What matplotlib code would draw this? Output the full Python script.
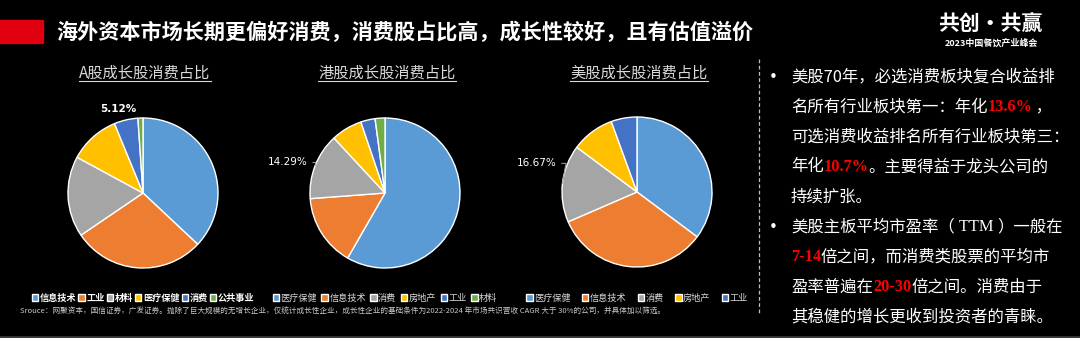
import matplotlib
matplotlib.use("Agg")
import matplotlib.pyplot as plt
import numpy as np

plt.rcParams['font.family'] = ['Noto Sans CJK SC', 'DejaVu Sans']

W, H = 1080, 338

# ---- data ----
a_title = "A股成长股消费占比"
a_labels = ["信息技术", "工业", "材料", "医疗保健", "消费", "公共事业"]
a_values = [37.0, 28.5, 17.4, 10.9, 5.12, 1.08]
a_marked = "消费"

hk_title = "港股成长股消费占比"
hk_labels = ["医疗保健", "信息技术", "消费", "房地产", "工业", "材料"]
hk_values = [58.3, 15.5, 14.29, 6.7, 3.1, 2.11]
hk_marked = "消费"

us_title = "美股成长股消费占比"
us_labels = ["医疗保健", "信息技术", "消费", "房地产", "工业"]
us_values = [35.2, 33.3, 16.67, 9.26, 5.57]
us_marked = "消费"

palette = ["#5B9BD5", "#ED7D31", "#A5A5A5", "#FFC000", "#4472C4", "#70AD47"]

headline = "海外资本市场长期更偏好消费，消费股占比高，成长性较好，且有估值溢价"
source = ("Srouce：网聚资本，国信证券，广发证券。抛除了巨大规模的无增长企业，仅统计成长性企业，"
          "成长性企业的基础条件为2022-2024 年市场共识营收 CAGR 大于 30%的公司，并具体加以筛选。")

WHITE, RED, GREY = "#ffffff", "#ff0000", "#d9d9d9"
bullets = [
    [[("美股70年，必选消费板块复合收益排", WHITE, None)],
     [("名所有行业板块第一：年化", WHITE, None), ("13.6%", RED, "serif"), (" ，", WHITE, None)],
     [("可选消费收益排名所有行业板块第三：", WHITE, None)],
     [("年化", WHITE, None), ("10.7%", RED, "serif"), ("。主要得益于龙头公司的", WHITE, None)],
     [("持续扩张。", WHITE, None)]],
    [[("美股主板平均市盈率（", WHITE, None), (" TTM ", WHITE, "serif_w"), ("）一般在", WHITE, None)],
     [("7-14", RED, "serif"), ("倍之间，而消费类股票的平均市", WHITE, None)],
     [("盈率普遍在", WHITE, None), ("20-30", RED, "serif"), ("倍之间。消费由于", WHITE, None)],
     [("其稳健的增长更收到投资者的青睐。", WHITE, None)]],
]

fig = plt.figure(figsize=(W / 100, H / 100), dpi=100, facecolor="black")
renderer = fig.canvas.get_renderer()


def fx(x):
    return x / W


def fy(y):
    return 1 - y / H


# ---- header ----
fig.patches.append(plt.Rectangle((0, fy(43)), fx(43), 23 / H, transform=fig.transFigure,
                                 color="#e00010", zorder=2))
fig.text(fx(56), fy(32), headline, color="white", fontsize=15.2, fontweight="bold",
         va="center", ha="left")
fig.text(fx(990), fy(23), "共创·共赢", color="white", fontsize=15, fontweight="heavy",
         va="center", ha="center", style="italic")
fig.text(fx(991), fy(43), "2023中国餐饮产业峰会", color="white", fontsize=6.5,
         fontweight="bold", va="center", ha="center")


# ---- pies ----
def draw_pie(cx, cy, title, labels, values, marked, label_off, leader, legend_bold,
             legend_spacing):
    R = 80
    ax = fig.add_axes([fx(cx - R), fy(cy + R), 2 * R / W, 2 * R / H])
    ax.axis("off")
    wedges, _ = ax.pie(values, colors=palette[:len(values)], startangle=90,
                       counterclock=False, radius=75 / R,
                       wedgeprops=dict(edgecolor="white", linewidth=1.0))
    ax.set_xlim(-1, 1)
    ax.set_ylim(-1, 1)
    # value label for the marked sector
    i = labels.index(marked)
    w = wedges[i]
    mid = np.deg2rad((w.theta1 + w.theta2) / 2)
    r = w.r
    ex, ey = r * np.cos(mid), r * np.sin(mid)
    tx, ty = ex + label_off[0], ey + label_off[1]
    if leader:
        ax.annotate(f"{values[i]:.2f}%", xy=(ex, ey), xytext=(tx, ty),
                    color="white", fontsize=7.5, ha="right", va="center",
                    family=["DejaVu Sans"], annotation_clip=False,
                    arrowprops=dict(arrowstyle="-", color="#a0a0a0", lw=0.7,
                                    connectionstyle="angle,angleA=0,angleB=80,rad=0",
                                    shrinkA=2, shrinkB=0))
    else:
        ax.text(tx, ty, f"{values[i]:.2f}%", color="white", fontsize=7.5,
                ha="center", va="center", family=["DejaVu Sans"], fontweight="bold")
    # title with underline
    t = fig.text(fx(cx + 2), fy(73), title, color=GREY, fontsize=11, ha="center",
                 va="center")
    bb = t.get_window_extent(renderer=renderer)
    fig.add_artist(plt.Line2D([bb.x0 / W, bb.x1 / W], [fy(80.5)] * 2, color=GREY, lw=0.8))
    # legend below the pie
    leg = ax.legend(wedges, labels, loc="center", ncol=len(labels),
                    bbox_to_anchor=(fx(cx), fy(298)),
                    bbox_transform=fig.transFigure, frameon=False,
                    handlelength=0.7, handleheight=0.7, handletextpad=0.15,
                    columnspacing=legend_spacing,
                    prop=dict(size=6.6, weight="bold" if legend_bold else "normal"))
    for txt in leg.get_texts():
        txt.set_color("white" if legend_bold else GREY)
    return ax


draw_pie(143, 193, a_title, a_labels, a_values, a_marked, (-0.1, 0.14), False, True, 0.25)
draw_pie(385, 193, hk_title, hk_labels, hk_values, hk_marked, (-0.1, 0.04), True, False, 0.5)
draw_pie(637, 192, us_title, us_labels, us_values, us_marked, (-0.08, 0.25), True, False, 1.25)

# ---- source note ----
fig.text(fx(20), fy(312), source, color="#c8c8c8", fontsize=5.5, ha="left", va="center")

# ---- divider and bottom rule ----
fig.add_artist(plt.Line2D([fx(759), fx(759)], [fy(59), fy(313)], color="#bfbfbf",
                          lw=0.9, ls=(0, (3, 2))))
fig.add_artist(plt.Line2D([0, 1], [fy(336.5)] * 2, color="#3a3a3a", lw=2))


# ---- bullet text ----
def draw_runs(x, y, runs):
    for text, color, kind in runs:
        if kind == "serif":
            kw = dict(family=["Liberation Serif"], fontweight="bold")
        elif kind == "serif_w":
            kw = dict(family=["Liberation Serif"])
        else:
            kw = {}
        t = fig.text(fx(x), fy(y), text, color=color, fontsize=11.8, ha="left",
                     va="center", **kw)
        x += t.get_window_extent(renderer=renderer).width


line_y = 77
for block in bullets:
    fig.text(fx(773), fy(line_y), "•", color="white", fontsize=11, ha="center",
             va="center", family=["DejaVu Sans"])
    for runs in block:
        draw_runs(791, line_y, runs)
        line_y += 30

fig.savefig("out.png", dpi=100, facecolor="black")
